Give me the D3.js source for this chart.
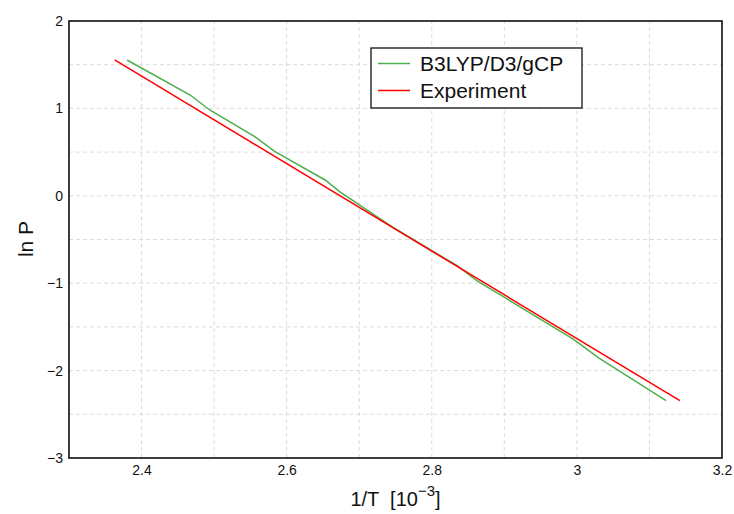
<!DOCTYPE html>
<html>
<head>
<meta charset="utf-8">
<script src="https://cdn.jsdelivr.net/npm/d3@7"></script>
<style>
  body { margin: 0; background: #fff; }
  svg { font-family: "Liberation Sans", Arial, sans-serif; }
  .grid line { stroke: #dcdcdc; stroke-dasharray: 4 3; }
  .tick text { font-size: 14px; fill: #111; }
</style>
</head>
<body>
<div id="chart"></div>
<script>
// series: [1/T (10^-3), ln P]
const experiment = [[2.363, 1.554], [3.142, -2.344]];
const b3lyp = [
  [2.380, 1.554], [2.467, 1.153], [2.494, 0.982], [2.556, 0.676],
  [2.584, 0.505], [2.653, 0.181], [2.673, 0.047], [2.75, -0.38],
  [2.835, -0.80], [2.862, -0.97], [2.995, -1.64], [3.031, -1.86],
  [3.123, -2.344]
];
const xTicks = [2.4, 2.6, 2.8, 3, 3.2];
const yTicks = [-3, -2, -1, 0, 1, 2];
const xGrid = d3.range(2.3, 3.21, 0.1);
const yGrid = d3.range(-3, 2.01, 0.5);
const legendItems = [
  { name: "B3LYP/D3/gCP", color: "#4daf4a" },
  { name: "Experiment", color: "#ff0000" }
];

const width = 734, height = 514;
const margin = { top: 21, right: 12, bottom: 56, left: 69 };

const svg = d3.select("#chart").append("svg")
  .attr("width", width).attr("height", height);

const x = d3.scaleLinear().domain([2.3, 3.2]).range([margin.left, width - margin.right]);
const y = d3.scaleLinear().domain([-3, 2]).range([height - margin.bottom, margin.top]);

// grid
svg.append("g").attr("class", "grid")
  .selectAll("line").data(xGrid).enter().append("line")
  .attr("x1", d => x(d)).attr("x2", d => x(d))
  .attr("y1", y(-3)).attr("y2", y(2));
svg.append("g").attr("class", "grid")
  .selectAll("line").data(yGrid).enter().append("line")
  .attr("x1", x(2.3)).attr("x2", x(3.2))
  .attr("y1", d => y(d)).attr("y2", d => y(d));

// frame
svg.append("rect")
  .attr("x", x(2.3)).attr("y", y(2))
  .attr("width", x(3.2) - x(2.3)).attr("height", y(-3) - y(2))
  .attr("fill", "none").attr("stroke", "#111").attr("stroke-width", 1.6);

// axes
const fmt = d => d < 0 ? "\u2212" + Math.abs(d) : String(d);
svg.append("g")
  .attr("transform", `translate(0,${y(-3)})`)
  .call(d3.axisBottom(x).tickValues(xTicks).tickSize(0).tickPadding(7).tickFormat(fmt))
  .call(g => g.select(".domain").remove())
  .attr("font-family", null);
svg.append("g")
  .attr("transform", `translate(${x(2.3)},0)`)
  .call(d3.axisLeft(y).tickValues(yTicks).tickSize(0).tickPadding(6).tickFormat(fmt))
  .call(g => g.select(".domain").remove())
  .attr("font-family", null);

// lines
const line = d3.line().x(d => x(d[0])).y(d => y(d[1]));
svg.append("path").datum(b3lyp)
  .attr("d", line).attr("fill", "none")
  .attr("stroke", legendItems[0].color).attr("stroke-width", 1.5);
svg.append("path").datum(experiment)
  .attr("d", line).attr("fill", "none")
  .attr("stroke", legendItems[1].color).attr("stroke-width", 1.5);

// legend
const lg = svg.append("g").attr("transform", "translate(371,48)");
lg.append("rect").attr("width", 211).attr("height", 60)
  .attr("fill", "#fff").attr("stroke", "#111").attr("stroke-width", 1.3);
const items = lg.selectAll(".item").data(legendItems).enter().append("g")
  .attr("transform", (d, i) => `translate(0,${15.5 + i * 27})`);
items.append("line").attr("x1", 7).attr("x2", 39)
  .attr("stroke", d => d.color).attr("stroke-width", 1.5);
items.append("text").attr("x", 49).attr("dy", "0.35em")
  .attr("font-size", 21).attr("fill", "#111").text(d => d.name);

// axis titles
const xt = svg.append("text")
  .attr("x", (x(2.3) + x(3.2)) / 2).attr("y", 506)
  .attr("text-anchor", "middle").attr("font-size", 20).attr("fill", "#111")
  .style("white-space", "pre");
xt.append("tspan").text("1/T  [10");
xt.append("tspan").attr("dy", -10).attr("font-size", 15).text("\u22123");
xt.append("tspan").attr("dy", 10).text("]");

svg.append("text")
  .attr("transform", `translate(33,${(y(2) + y(-3)) / 2 - 0.5}) rotate(-90)`)
  .attr("text-anchor", "middle").attr("font-size", 21).attr("fill", "#111")
  .text("ln P");
</script>
</body>
</html>
